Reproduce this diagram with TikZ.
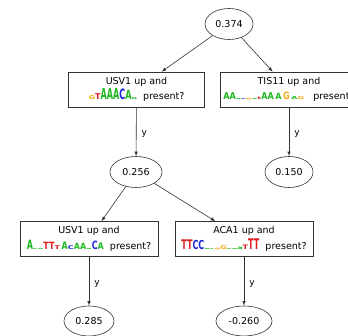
\documentclass[tikz,border=0pt]{standalone}
\usepackage{fontspec}
\setmainfont{DejaVu Sans}
\usetikzlibrary{shapes.geometric}

\definecolor{baseA}{RGB}{30,185,30}
\definecolor{baseC}{RGB}{30,40,220}
\definecolor{baseG}{RGB}{245,170,20}
\definecolor{baseT}{RGB}{220,30,30}
% one column of a sequence logo: colour, height, letters
\newcommand{\base}[3]{\scalebox{0.85}[#2]{\textcolor{#1}{\bfseries #3}}}
\newcommand{\logousvtop}{\base{baseG}{0.55}{G}\base{baseT}{0.85}{T}\base{baseA}{1.6}{AAA}\base{baseC}{1.5}{C}\base{baseA}{1.35}{A}\base{baseA}{0.35}{o}}
\newcommand{\logotis}{\base{baseA}{1.0}{AA}\base{baseA}{0.2}{a}\base{baseC}{0.2}{c}\base{baseG}{0.25}{g}\base{baseA}{0.2}{a}\base{baseT}{0.35}{t}\base{baseA}{1.0}{AA}\,\base{baseA}{0.9}{A}\,\base{baseG}{1.05}{G}\,\base{baseA}{0.45}{A}\base{baseG}{0.45}{G}}
\newcommand{\logousvlow}{\base{baseA}{1.35}{A}\base{baseA}{0.2}{ca}\base{baseT}{1.05}{TT}\base{baseT}{0.55}{T}\,\base{baseA}{1.1}{A}\base{baseC}{0.55}{C}\base{baseA}{0.9}{AA}\base{baseA}{0.2}{a}\base{baseC}{1.2}{C}\base{baseA}{0.95}{A}}
\newcommand{\logoaca}{\base{baseT}{1.4}{TT}\base{baseC}{1.3}{CC}\base{baseA}{0.2}{ac}\base{baseG}{0.25}{g}\base{baseG}{0.55}{G}\base{baseA}{0.2}{ca}\base{baseA}{0.45}{a}\base{baseT}{0.65}{T}\base{baseT}{1.55}{TT}}

\begin{document}
\begin{tikzpicture}[x=1pt,y=-1pt,->,>=latex,draw=black!80,semithick,font=\fontsize{9.5}{15.5}\selectfont]
    \tikzstyle{value}=[ellipse,draw=black!80,minimum width=48pt,minimum height=31pt,inner sep=0pt]
    \tikzstyle{test}=[rectangle,draw=black!80,minimum width=136pt,minimum height=35pt,align=center,inner sep=1pt]
    \tikzstyle{yes}=[right,pos=0.55,inner sep=5pt,font=\fontsize{9}{10}\selectfont]
    \useasboundingbox (0,0) rectangle (348,336);
    % root of the tree
    \node[value] (R) at (229,24) {0.374};
    % first level tests
    \node[test] (T-1) at (136.5,89.5) {USV1 up and\\ \logousvtop\ \ present?};
    \node[test,minimum width=138pt] (T-2) at (289,89.5) {TIS11 up and\\ \logotis\ \ \ present?};
    \path (R) edge (T-1)
          (R) edge (T-2);
    % values after the first tests
    \node[value,minimum width=52pt] (V-1) at (136,172) {0.256};
    \node[value] (V-2) at (289,172) {0.150};
    \path (T-1) edge node[yes] {y} (V-1)
          (T-2) edge node[yes] {y} (V-2);
    % second level tests
    \node[test,minimum width=138pt] (T-3) at (89,239) {USV1 up and\\ \logousvlow\ \ present?};
    \node[test,minimum width=138pt] (T-4) at (244,239) {ACA1 up and\\ \logoaca\ \ present?};
    \path (V-1) edge (T-3)
          (V-1) edge (T-4);
    % leaf values
    \node[value,minimum width=50pt,minimum height=30pt] (V-3) at (89,321) {0.285};
    \node[value,minimum width=56pt,minimum height=30pt] (V-4) at (244,321) {-0.260};
    \path (T-3) edge node[yes] {y} (V-3)
          (T-4) edge node[yes] {y} (V-4);
\end{tikzpicture}
\end{document}
